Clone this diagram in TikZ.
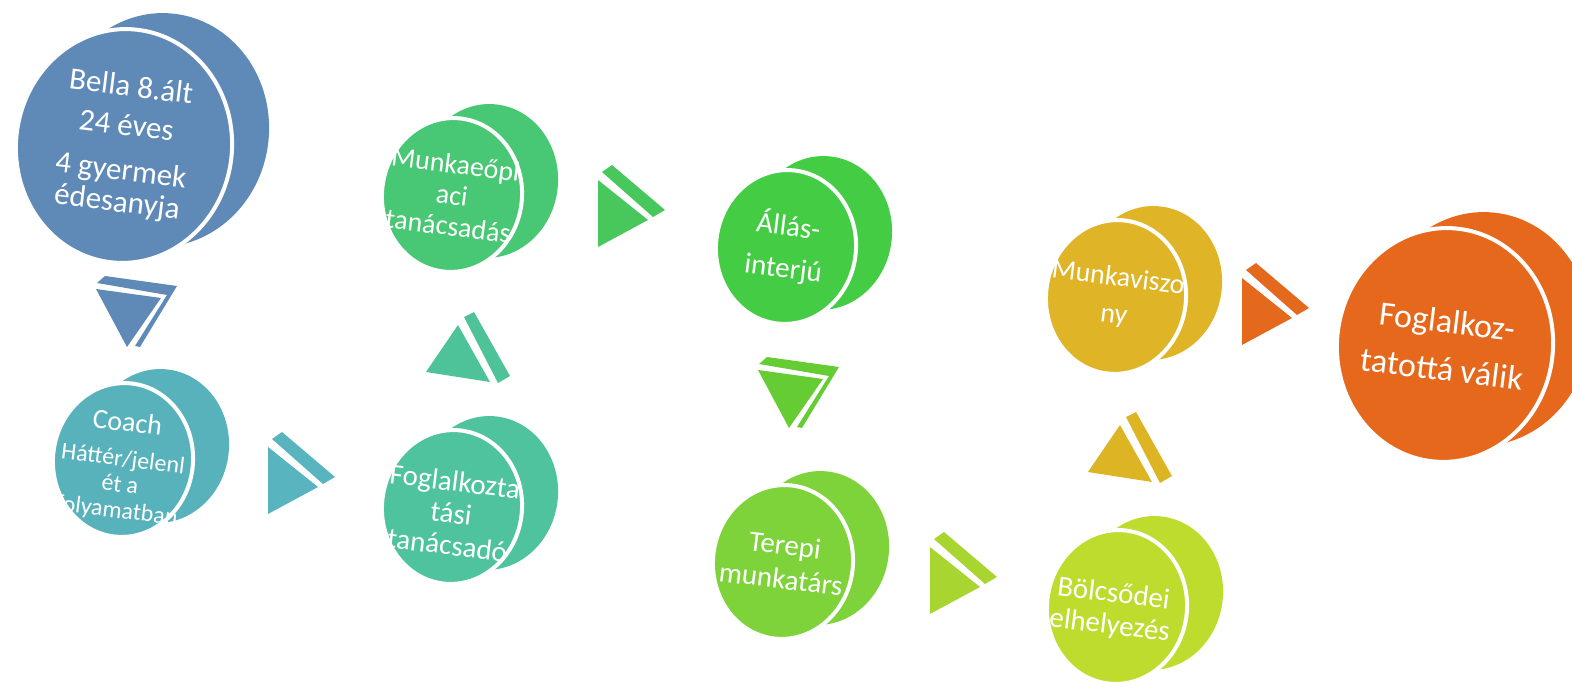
\documentclass[tikz,border=0pt]{standalone}
\usepackage{fontspec}
\setmainfont{Carlito}
\usepackage{tikz}
\usetikzlibrary{shapes.geometric, backgrounds}
\definecolor{cbella}{HTML}{5F8AB7}
\definecolor{ccoach}{HTML}{58B2BC}
\definecolor{cmunka}{HTML}{48C774}
\definecolor{cfogl}{HTML}{4EC39E}
\definecolor{callas}{HTML}{44CC44}
\definecolor{cterep}{HTML}{7ED23A}
\definecolor{cviszony}{HTML}{E0B427}
\definecolor{cbolcs}{HTML}{BEDC2E}
\definecolor{cvegso}{HTML}{E5681D}
\definecolor{atri1}{HTML}{5F8AB8}
\definecolor{atri2}{HTML}{58B4BE}
\definecolor{atri3}{HTML}{4EC39A}
\definecolor{atri4}{HTML}{47C75C}
\definecolor{atri5}{HTML}{66CC33}
\definecolor{atri6}{HTML}{A8D530}
\definecolor{atri7}{HTML}{DDB524}
\definecolor{atri8}{HTML}{E5691C}
\tikzset{
  disc/.style={ellipse, draw=white, line width=4pt, minimum width=140,
    minimum height=154, inner sep=0pt, rotate=-6},
  bigdisc/.style={disc, minimum width=216, minimum height=234},
  disctext/.style={text=white, align=center, rotate=-7, inner sep=0pt},
  rtri/.pic={
    \fill (0,0) -- (0,67) -- (50,40) -- cycle;
    \fill (4,-8) -- (14,-15) -- (67,30) -- (55,37) -- cycle;
  },
  dtri/.pic={
    \fill (0,0) -- (65,9) -- (31,58) -- cycle;
    \fill (9,-13) -- (81,-3) -- (44,58) -- (39,57) -- (71,6) -- (1,-6) -- cycle;
  },
  utri/.pic={
    \fill (0,0) -- (-32,47) -- (32,57) -- cycle;
    \fill (6,-8) -- (16,-13) -- (52,51) -- (40,58) -- cycle;
  },
}

\begin{document}
\begin{tikzpicture}[x=1pt, y=-1pt]
  \useasboundingbox (0,0) rectangle (1572,684);

  % ── Discs (front faces) ──
  \node[bigdisc, fill=cbella]   (bella)   at (124,146)  {};
  \node[disc, fill=ccoach]      (coach)   at (123,460)  {};
  \node[disc, fill=cmunka]      (munka)   at (452,195)  {};
  \node[disc, fill=cfogl]       (fogl)    at (452,507)  {};
  \node[disc, fill=callas]      (allas)   at (786,247)  {};
  \node[disc, fill=cterep]      (terep)   at (783,562)  {};
  \node[disc, fill=cviszony]    (viszony) at (1116,297) {};
  \node[disc, fill=cbolcs]      (bolcs)   at (1117,607) {};
  \node[bigdisc, fill=cvegso]   (vegso)   at (1445,345) {};

  % ── Disc depth ──
  \begin{scope}[on background layer]
    \node[bigdisc, draw=none, fill=cbella] (bella-b)   at ([shift={(37,-16)}]bella.center)   {};
    \node[disc, draw=none, fill=ccoach]    (coach-b)   at ([shift={(36,-14)}]coach.center)   {};
    \node[disc, draw=none, fill=cmunka]    (munka-b)   at ([shift={(36,-14)}]munka.center)   {};
    \node[disc, draw=none, fill=cfogl]     (fogl-b)    at ([shift={(36,-14)}]fogl.center)    {};
    \node[disc, draw=none, fill=callas]    (allas-b)   at ([shift={(36,-14)}]allas.center)   {};
    \node[disc, draw=none, fill=cterep]    (terep-b)   at ([shift={(36,-14)}]terep.center)   {};
    \node[disc, draw=none, fill=cviszony]  (viszony-b) at ([shift={(36,-14)}]viszony.center) {};
    \node[disc, draw=none, fill=cbolcs]    (bolcs-b)   at ([shift={(36,-14)}]bolcs.center)   {};
    \node[bigdisc, draw=none, fill=cvegso] (vegso-b)   at ([shift={(37,-16)}]vegso.center)   {};
  \end{scope}

  % ── Texts ──
  \node[disctext, font=\fontsize{31}{32}\selectfont] (bella-t) at (bella)
    {Bella 8.ált\\[7pt]24 éves\\[13pt]4 gyermek\\édesanyja};
  \node[disctext, font=\fontsize{24}{26}\selectfont, yshift=-7pt] (coach-t) at (coach)
    {{\fontsize{28}{28}\selectfont Coach}\\[9pt]Háttér/jelenl\\ét a\\folyamatban};
  \node[disctext, font=\fontsize{28}{31}\selectfont] (munka-t) at (munka)
    {Munkaeőpi\\aci\\tanácsadás};
  \node[disctext, font=\fontsize{29}{32}\selectfont, yshift=-6pt] (fogl-t) at (fogl)
    {Foglalkozta\\tási\\tanácsadó};
  \node[disctext, font=\fontsize{29}{32}\selectfont] (allas-t) at (allas)
    {Állás-\\[10pt]interjú};
  \node[disctext, font=\fontsize{29}{34}\selectfont] (terep-t) at (terep)
    {Terepi\\munkatárs};
  \node[disctext, font=\fontsize{28}{37}\selectfont] (viszony-t) at (viszony)
    {Munkaviszo\\ny};
  \node[disctext, font=\fontsize{29}{32}\selectfont, xshift=-5pt, yshift=-4pt] (bolcs-t) at (bolcs)
    {Bölcsődei\\elhelyezés};
  \node[disctext, font=\fontsize{34}{48}\selectfont] (vegso-t) at (vegso)
    {Foglalkoz-\\tatottá válik};

  % ── Arrows ──
  \pic[color=atri1] at (96,289)   {dtri};
  \pic[color=atri2] at (268,447)  {rtri};
  \pic[color=atri3] at (458,325)  {utri};
  \pic[color=atri4] at (598,180)  {rtri};
  \pic[color=atri5] at (758,370)  {dtri};
  \pic[color=atri6] at (930,547)  {rtri};
  \pic[color=atri7] at (1120,425) {utri};
  \pic[color=atri8] at (1242,278) {rtri};

\end{tikzpicture}
\end{document}
